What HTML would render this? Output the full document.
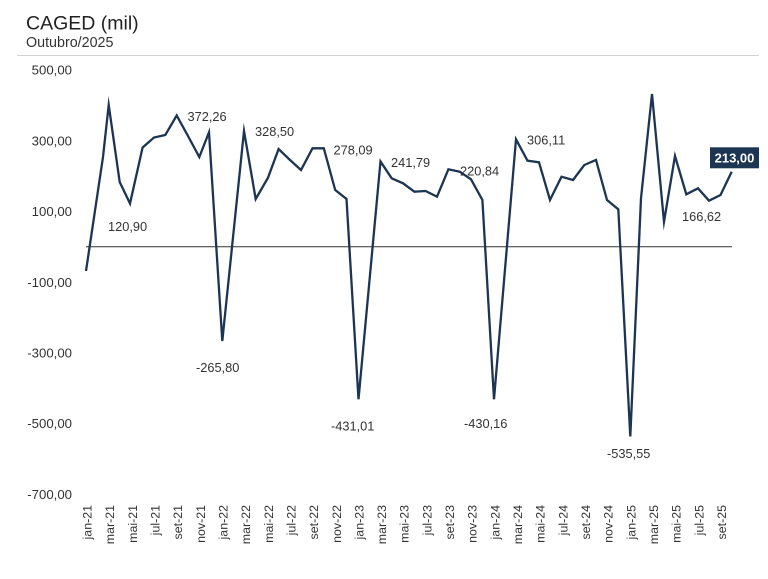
<!DOCTYPE html>
<html><head><meta charset="utf-8">
<style>
html,body{margin:0;padding:0;background:#fff;}
svg{display:block;}
text{font-family:"Liberation Sans",sans-serif;}
</style></head>
<body>
<svg width="768" height="579" viewBox="0 0 768 579" xmlns="http://www.w3.org/2000/svg">
<rect width="768" height="579" fill="#fff"/>
<text x="26" y="29.5" font-size="19.5" fill="#222">CAGED (mil)</text>
<text x="26" y="47" font-size="14.3" fill="#333">Outubro/2025</text>
<line x1="17" y1="55.5" x2="759" y2="55.5" stroke="#d2d2d2" stroke-width="1"/>

<g font-size="13.2" fill="#333" text-anchor="end">
<text x="72" y="74.5">500,00</text>
<text x="72" y="145.5">300,00</text>
<text x="72" y="216">100,00</text>
<text x="72" y="286.8">-100,00</text>
<text x="72" y="357.5">-300,00</text>
<text x="72" y="428.2">-500,00</text>
<text x="72" y="498.8">-700,00</text>
</g>

<line x1="86" y1="246.7" x2="732" y2="246.7" stroke="#333" stroke-width="1"/>

<polyline fill="none" stroke="#1c3552" stroke-width="2.3" stroke-linejoin="miter" stroke-miterlimit="10" points="
86,271 103,157 108.7,105 119.7,182 130,203.5 142.6,147.5 154,137.5 165.3,135 176.7,115.5 188,136 199.3,157 209,132.3 222.3,341
244,131 255.7,199 268,177.7 278.6,149 290,160 301,170 312.5,148.3 323.8,148.3 335.2,190 346.5,199 358.5,399.3
380.5,161.5 391.7,178.3 403,183.3 414.4,191.7 425.6,191 437,196.7 448.4,169.3 459.7,171.7 471,179.3 482.4,200 494,399.3
516,139.3 527.5,160.7 539,162.3 550,200 561.5,176.7 573,180 584.3,165 596,160 607,200 618.3,209.3 630.3,436.5
641,198.3 652,94 664,221.7 675,156 686.3,194.3 698,188.3 709,200.7 720.5,195 731.7,171.7"/>

<g font-size="12.8" fill="#333">
<text x="108" y="231">120,90</text>
<text x="187.5" y="121">372,26</text>
<text x="255" y="136">328,50</text>
<text x="333.5" y="154.5">278,09</text>
<text x="391" y="167">241,79</text>
<text x="460" y="175.5">220,84</text>
<text x="527" y="144.5">306,11</text>
<text x="682" y="221">166,62</text>
<text x="196" y="372">-265,80</text>
<text x="331" y="430.5">-431,01</text>
<text x="464" y="428">-430,16</text>
<text x="607" y="458">-535,55</text>
</g>

<rect x="710" y="147.3" width="49" height="21" fill="#1c3552"/>
<text x="734.5" y="162.5" font-size="13" font-weight="bold" fill="#fff" text-anchor="middle">213,00</text>

<g font-size="12.4" fill="#333" text-anchor="end">
<text transform="translate(91.5,505) rotate(-90)">jan-21</text>
<text transform="translate(114.2,505) rotate(-90)">mar-21</text>
<text transform="translate(136.8,505) rotate(-90)">mai-21</text>
<text transform="translate(159.5,505) rotate(-90)">jul-21</text>
<text transform="translate(182.1,505) rotate(-90)">set-21</text>
<text transform="translate(204.8,505) rotate(-90)">nov-21</text>
<text transform="translate(227.5,505) rotate(-90)">jan-22</text>
<text transform="translate(250.1,505) rotate(-90)">mar-22</text>
<text transform="translate(272.8,505) rotate(-90)">mai-22</text>
<text transform="translate(295.4,505) rotate(-90)">jul-22</text>
<text transform="translate(318.1,505) rotate(-90)">set-22</text>
<text transform="translate(340.8,505) rotate(-90)">nov-22</text>
<text transform="translate(363.4,505) rotate(-90)">jan-23</text>
<text transform="translate(386.1,505) rotate(-90)">mar-23</text>
<text transform="translate(408.7,505) rotate(-90)">mai-23</text>
<text transform="translate(431.4,505) rotate(-90)">jul-23</text>
<text transform="translate(454.1,505) rotate(-90)">set-23</text>
<text transform="translate(476.7,505) rotate(-90)">nov-23</text>
<text transform="translate(499.4,505) rotate(-90)">jan-24</text>
<text transform="translate(522,505) rotate(-90)">mar-24</text>
<text transform="translate(544.7,505) rotate(-90)">mai-24</text>
<text transform="translate(567.4,505) rotate(-90)">jul-24</text>
<text transform="translate(590,505) rotate(-90)">set-24</text>
<text transform="translate(612.7,505) rotate(-90)">nov-24</text>
<text transform="translate(635.3,505) rotate(-90)">jan-25</text>
<text transform="translate(658,505) rotate(-90)">mar-25</text>
<text transform="translate(680.7,505) rotate(-90)">mai-25</text>
<text transform="translate(703.3,505) rotate(-90)">jul-25</text>
<text transform="translate(726,505) rotate(-90)">set-25</text>
</g>
</svg>
</body></html>
